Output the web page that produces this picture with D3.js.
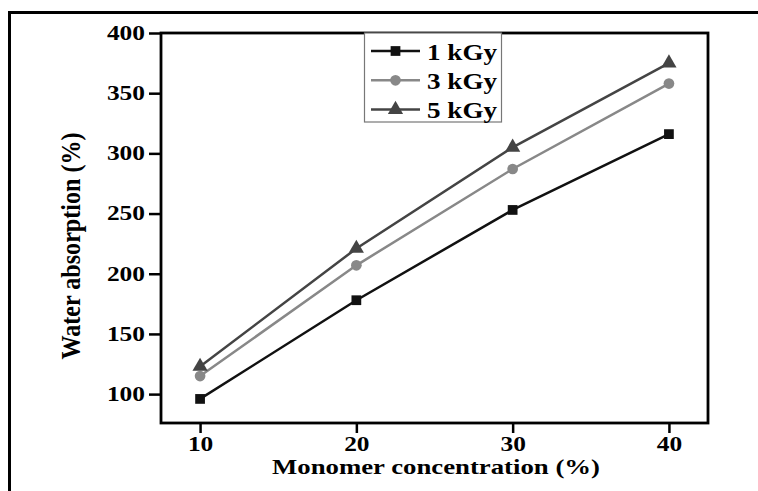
<!DOCTYPE html>
<html>
<head>
<meta charset="utf-8">
<script src="https://cdn.jsdelivr.net/npm/d3@7"></script>
<style>
	body { margin: 0; background: #fff; }
	text { font-family: "Liberation Serif", "DejaVu Serif", serif; font-weight: bold; }
</style>
</head>
<body>
<script>
var concentration = [10, 20, 30, 40];
var gy1 = [96, 178, 253, 316];
var gy3 = [115, 207, 287, 358];
var gy5 = [123, 221, 305, 375];
var seriesNames = ['1 kGy', '3 kGy', '5 kGy'];
var xTicks = [10, 20, 30, 40];
var yTicks = [100, 150, 200, 250, 300, 350, 400];

var series = [
	{name: seriesNames[0], values: gy1, color: '#111', shape: d3.symbolSquare, size: 95},
	{name: seriesNames[1], values: gy3, color: '#888', shape: d3.symbolCircle, size: 90},
	{name: seriesNames[2], values: gy5, color: '#444', shape: d3.symbolTriangle, size: 100}
];

var width = 758, height = 491;
// plot frame edges (window.top is reserved, so use pl/pr/pt/pb)
var pl = 161, pr = 708, pt = 33, pb = 423;
var stretch = 1.27; // the picture is a bit wider than tall

// widen a text sideways, keeping its anchor
function widen(sel, k) {
	sel.each(function() {
		var w = this.getComputedTextLength();
		d3.select(this)
			.attr('textLength', w * k)
			.attr('lengthAdjust', 'spacingAndGlyphs');
	});
}

var svg = d3.select('body')
		.append('svg')
		.attr('width', width)
		.attr('height', height);

// outer picture border
svg.append('path')
		.attr('d', 'M9.5,' + height + 'V12.5H' + width)
		.attr('fill', 'none')
		.attr('stroke', '#000')
		.attr('stroke-width', 3);

var x = d3.scaleLinear()
	.domain([7.5, 42.5])
	.range([pl, pr]);

var y = d3.scaleLinear()
	.domain([76, 400])
	.range([pb, pt]);

var xAxis = svg.append('g')
		.attr('transform', 'translate(0,' + pb + ')')
		.call(d3.axisBottom(x).tickValues(xTicks).tickSize(10).tickPadding(4));

var yAxis = svg.append('g')
		.attr('transform', 'translate(' + pl + ',0)')
		.call(d3.axisLeft(y).tickValues(yTicks).tickSize(12).tickPadding(4));

[xAxis, yAxis].forEach(function(a) {
	a.select('.domain').remove();
	a.selectAll('line').attr('stroke', '#000').attr('stroke-width', 2.5);
	a.selectAll('text').attr('fill', '#000').style('font-size', '20px');
	widen(a.selectAll('text'), stretch);
});

// plot frame
svg.append('rect')
		.attr('x', pl)
		.attr('y', pt)
		.attr('width', pr - pl)
		.attr('height', pb - pt)
		.attr('fill', 'none')
		.attr('stroke', '#000')
		.attr('stroke-width', 2.8);

var line = d3.line()
	.x(function(d, i) { return x(concentration[i]); })
	.y(function(d) { return y(d); });

series.forEach(function(s) {
	svg.append('path')
			.attr('d', line(s.values))
			.attr('fill', 'none')
			.attr('stroke', s.color)
			.attr('stroke-width', 2.5);

	svg.selectAll(null)
			.data(s.values)
			.enter().append('path')
			.attr('d', d3.symbol().type(s.shape).size(s.size))
			.attr('transform', function(d, i) {
				return 'translate(' + x(concentration[i]) + ',' + y(d) + ')';
			})
			.attr('fill', s.color);
});

// legend
var legend = svg.append('g');
legend.append('rect')
		.attr('x', 364.5)
		.attr('y', pt)
		.attr('width', 137)
		.attr('height', 89)
		.attr('fill', '#fff')
		.attr('stroke', '#777')
		.attr('stroke-width', 1.2);

series.forEach(function(s, i) {
	var ly = 51 + i * 29.3;
	legend.append('line')
			.attr('x1', 371).attr('x2', 420)
			.attr('y1', ly).attr('y2', ly)
			.attr('stroke', s.color)
			.attr('stroke-width', 2.5);
	legend.append('path')
			.attr('d', d3.symbol().type(s.shape).size(s.size))
			.attr('transform', 'translate(395.5,' + ly + ')')
			.attr('fill', s.color);
	legend.append('text')
			.attr('x', 427)
			.attr('y', ly + 8.5)
			.style('font-size', '23px')
			.attr('textLength', 70)
			.attr('lengthAdjust', 'spacingAndGlyphs')
			.text(s.name);
});

svg.append('text')
		.attr('x', 436)
		.attr('y', 474)
		.attr('text-anchor', 'middle')
		.style('font-size', '22px')
		.attr('textLength', 328)
		.attr('lengthAdjust', 'spacingAndGlyphs')
		.text('Monomer concentration (%)');

svg.append('text')
		.attr('transform', 'translate(80,246) rotate(-90) scale(1,' + stretch + ')')
		.attr('text-anchor', 'middle')
		.style('font-size', '21px')
		.attr('textLength', 227)
		.attr('lengthAdjust', 'spacingAndGlyphs')
		.text('Water absorption (%)');
</script>
</body>
</html>
